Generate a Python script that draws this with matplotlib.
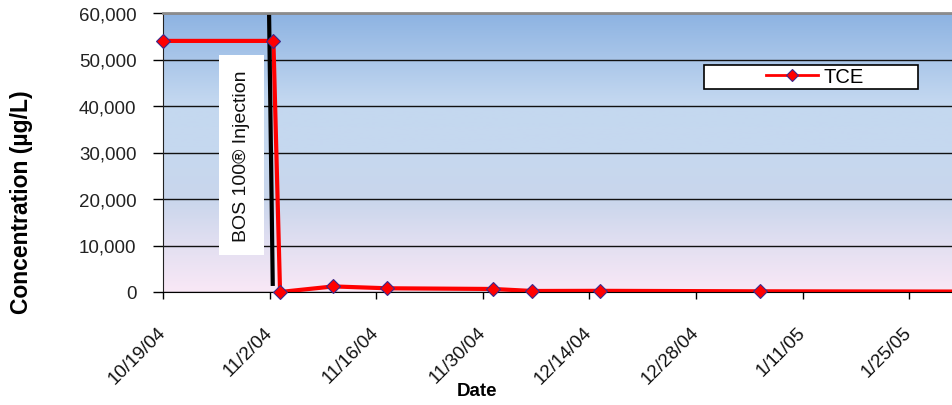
import matplotlib
matplotlib.use("Agg")
import matplotlib.pyplot as plt
import matplotlib.dates as mdates
from matplotlib.patches import Rectangle
from matplotlib.colors import LinearSegmentedColormap
from matplotlib.ticker import FuncFormatter, MultipleLocator
from matplotlib.lines import Line2D
import numpy as np
import pandas as pd

# ---------------- data ----------------
sample_dates = ["2004-10-19 00:00", "2004-11-02 12:00", "2004-11-03 09:00",
                "2004-11-10 09:00", "2004-11-17 10:00", "2004-12-01 09:00",
                "2004-12-06 12:00", "2004-12-15 10:00", "2005-01-05 10:00",
                "2005-02-08 10:00"]
tce_values = [54000, 54000, 0, 1200, 800, 650, 220, 250, 150, 80]
series_name = "TCE"

tick_dates = ["2004-10-19", "2004-11-02", "2004-11-16", "2004-11-30",
              "2004-12-14", "2004-12-28", "2005-01-11", "2005-01-25"]
tick_labels = ["10/19/04", "11/2/04", "11/16/04", "11/30/04",
               "12/14/04", "12/28/04", "1/11/05", "1/25/05"]
x_start = "2004-10-19 00:00"
x_end = "2005-01-30 15:00"
y_max = 60000
y_step = 10000

injection_line_dates = ["2004-11-01 22:20", "2004-11-02 10:00"]
injection_line_values = [60000, 1300]
injection_text = "BOS 100\u00ae Injection"

y_label = "Concentration (\u00b5g/L)"
x_label = "Date"

# ---------------- figure ----------------
plt.rcParams['font.family'] = ['Liberation Sans', 'DejaVu Sans']
W, H = 952, 406
fig = plt.figure(figsize=(W / 100, H / 100), dpi=100)
ax = fig.add_axes([163 / W, 1 - 293 / H, (952 - 163) / W, (293 - 14) / H])

dates = mdates.date2num(pd.to_datetime(sample_dates).to_pydatetime())
vals = np.array(tce_values, dtype=float)
x0 = mdates.date2num(pd.Timestamp(x_start).to_pydatetime())
x1 = mdates.date2num(pd.Timestamp(x_end).to_pydatetime())

# gradient background
def c(r, g, b):
    return (r / 255, g / 255, b / 255)
stops = [(0.0, c(249, 232, 246)),
         (0.17, c(226, 223, 241)),
         (0.33, c(201, 214, 236)),
         (0.5, c(198, 216, 239)),
         (0.68, c(196, 216, 240)),
         (1.0, c(141, 179, 226))]
cmap = LinearSegmentedColormap.from_list("bg", stops)
grad = np.linspace(0, 1, 256).reshape(-1, 1)
ax.imshow(grad, cmap=cmap, aspect='auto', origin='lower',
          extent=[0, 1, 0, 1], transform=ax.transAxes, zorder=0)

ax.set_xlim(x0, x1)
ax.set_ylim(0, y_max)

# gridlines
ax.yaxis.set_major_locator(MultipleLocator(y_step))
ax.grid(axis='y', color='#111111', linewidth=1.0, zorder=1)
ax.set_axisbelow(False)

# line (clipped) and markers (unclipped within range)
ax.plot(dates, vals, color='#ff0000', linewidth=3.0, zorder=3,
        solid_joinstyle='round')
inrange = (dates >= x0) & (dates <= x1)
ax.plot(dates[inrange], vals[inrange], linestyle='none', marker='D',
        markersize=7, markerfacecolor='#ff0000', markeredgecolor='#3b2a8c',
        markeredgewidth=0.8, zorder=5, clip_on=False)

# injection line
inj_x = mdates.date2num(pd.to_datetime(injection_line_dates).to_pydatetime())
ax.plot(inj_x, injection_line_values, color='black', linewidth=3.0,
        zorder=4, clip_on=False, solid_capstyle='butt')

# injection text
ax.text(0.0989, 0.491, injection_text, rotation=90, transform=ax.transAxes,
        ha='center', va='center', fontsize=14, color='#111111', zorder=6,
        bbox=dict(boxstyle='square,pad=0.72', fc='white', ec='none'))

# ticks
tick_x = mdates.date2num(pd.to_datetime(tick_dates).to_pydatetime())
ax.set_xticks(tick_x)
ax.set_xticklabels(tick_labels)
for lab in ax.get_xticklabels():
    lab.set_rotation(45)
    lab.set_rotation_mode('anchor')
    lab.set_ha('right')
    lab.set_va('center')
ax.tick_params(axis='x', direction='out', length=5, width=1, colors='black',
               labelsize=13.5, pad=22, labelcolor='#111111')
ax.yaxis.set_major_formatter(FuncFormatter(lambda v, p: f"{int(v):,}"))
ax.tick_params(axis='y', direction='out', length=7, width=1, colors='black',
               labelsize=13.5, pad=12, labelcolor='#222222')

ax.spines['right'].set_visible(False)
ax.spines['top'].set_color('#8c8c8c')
ax.spines['top'].set_linewidth(2)
ax.spines['left'].set_color('#222222')
ax.spines['bottom'].set_color('black')
for s in ['left', 'bottom', 'top']:
    ax.spines[s].set_zorder(4)

# legend
ax.add_patch(Rectangle((0.6857, 0.7276), 0.2712, 0.086, transform=ax.transAxes,
                       facecolor='white', edgecolor='black', linewidth=1.2,
                       zorder=7, clip_on=False))
h = Line2D([], [], color='#ff0000', linewidth=2, marker='D', markersize=6,
           markerfacecolor='#ff0000', markeredgecolor='#3b2a8c',
           markeredgewidth=0.8)
leg = ax.legend([h], [series_name], loc='center', bbox_to_anchor=(0.826, 0.771),
                frameon=False, fontsize=14.5, handlelength=2.6,
                handletextpad=0.25, borderpad=0, borderaxespad=0)
leg.set_zorder(8)

# axis labels
fig.text(22 / W, 1 - 202 / H, y_label, rotation=90, ha='center', va='center',
         fontsize=16.5, fontweight='bold', color='black')
fig.text(477 / W, 1 - 392 / H, x_label, ha='center', va='center',
         fontsize=13.5, fontweight='bold', color='black')

fig.savefig("out.png", dpi=100)
